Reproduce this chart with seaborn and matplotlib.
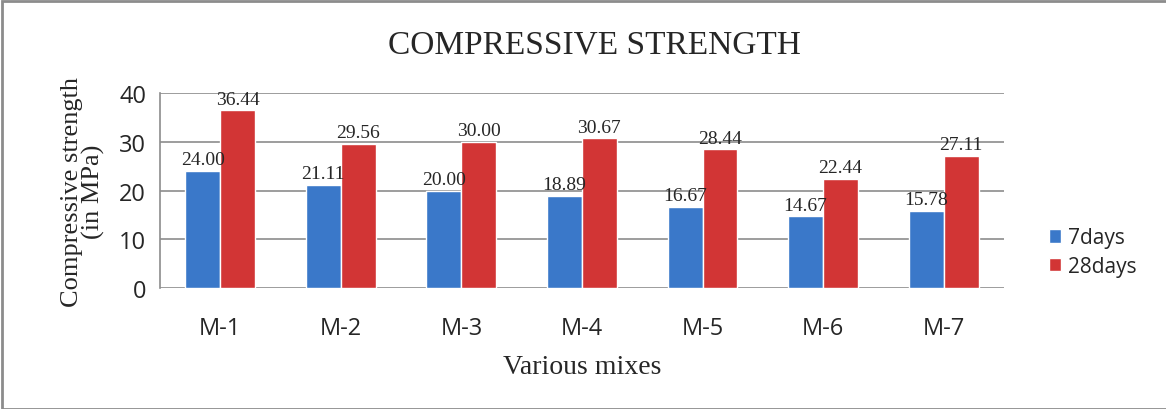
import matplotlib
matplotlib.use("Agg")
import matplotlib.pyplot as plt
import seaborn as sns
import pandas as pd

mixes = ["M-1", "M-2", "M-3", "M-4", "M-5", "M-6", "M-7"]
days7 = [24.00, 21.11, 20.00, 18.89, 16.67, 14.67, 15.78]
days28 = [36.44, 29.56, 30.00, 30.67, 28.44, 22.44, 27.11]
series = ["7days", "28days"]
yticks = [0, 10, 20, 30, 40]

df = pd.DataFrame({
    "mix": mixes * 2,
    "age": [series[0]] * len(mixes) + [series[1]] * len(mixes),
    "strength": days7 + days28,
})

sns.set_style("white")
serif = ["Liberation Serif", "DejaVu Serif"]
sans = ["Open Sans", "DejaVu Sans"]

fig = plt.figure(figsize=(11.66, 4.10), dpi=100)
ax = fig.add_axes([0.1372, 0.2951, 0.7238, 0.4756])

palette = {"7days": "#3a78c9", "28days": "#d23535"}
sns.barplot(data=df, x="mix", y="strength", hue="age", palette=palette,
            width=0.58, saturation=1, ax=ax, legend=True)

for container in ax.containers:
    ax.bar_label(container, fmt="%.2f", padding=2, fontsize=14, family=serif)

ax.set_ylim(0, 40)
ax.set_yticks(yticks)
ax.yaxis.grid(True, color="#8c8c8c", linewidth=1.2)
ax.set_axisbelow(True)
for s in ["top", "right", "bottom"]:
    ax.spines[s].set_visible(False)
ax.spines["left"].set_color("#8c8c8c")
ax.spines["left"].set_linewidth(1.2)
ax.tick_params(axis="y", length=6, color="#8c8c8c", width=1.2, labelsize=17, pad=4)
ax.tick_params(axis="x", length=0, labelsize=17, pad=20)
for lab in ax.get_xticklabels() + ax.get_yticklabels():
    lab.set_family(sans)

ax.set_xlabel("Various mixes", fontsize=20, family=serif, labelpad=10)
ax.set_ylabel("Compressive strength\n(in MPa)", fontsize=19, family=serif,
              linespacing=0.95, labelpad=10)
fig.text(0.51, 0.89, "COMPRESSIVE STRENGTH", ha="center", va="center",
         fontsize=24, family=serif)

leg = ax.legend(loc="center left", bbox_to_anchor=(1.031, 0.185), frameon=False,
                fontsize=15, handlelength=0.6, handleheight=0.6,
                handletextpad=0.3, labelspacing=0.35)
for t in leg.get_texts():
    t.set_family(sans)

border = plt.Rectangle((0.002, 0.0), 1.2, 0.994, transform=fig.transFigure,
                       fill=False, edgecolor="#8c8c8c", linewidth=2)
fig.add_artist(border)

fig.savefig("out.png", dpi=100)
